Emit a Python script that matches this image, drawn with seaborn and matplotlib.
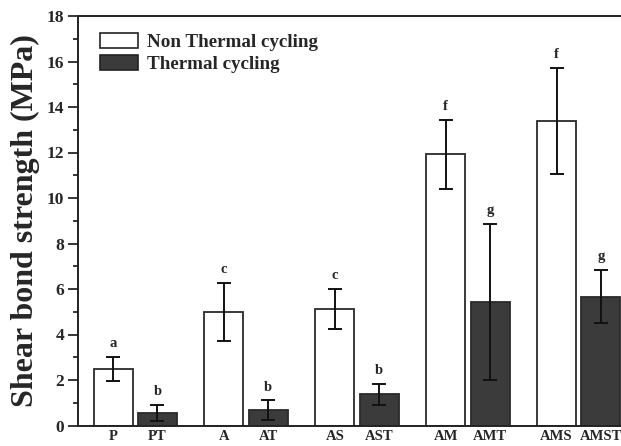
import matplotlib
matplotlib.use("Agg")
import matplotlib.pyplot as plt
from matplotlib.ticker import MultipleLocator
import seaborn as sns
import pandas as pd
import numpy as np

# ---- data ----
groups = ["P", "A", "AS", "AM", "AMS"]
conditions = ["Non Thermal cycling", "Thermal cycling"]
bar_labels = ["P", "PT", "A", "AT", "AS", "AST", "AM", "AMT", "AMS", "AMST"]
non_thermal = [2.47, 4.99, 5.13, 11.92, 13.37]
non_thermal_err = [0.53, 1.27, 0.87, 1.53, 2.33]
thermal = [0.55, 0.67, 1.38, 5.44, 5.67]
thermal_err = [0.35, 0.43, 0.46, 3.43, 1.16]
non_thermal_letters = ["a", "c", "c", "f", "f"]
thermal_letters = ["b", "b", "b", "g", "g"]

df = pd.DataFrame({
    "group": groups * 2,
    "condition": [conditions[0]] * 5 + [conditions[1]] * 5,
    "value": non_thermal + thermal,
    "err": non_thermal_err + thermal_err,
    "letter": non_thermal_letters + thermal_letters,
})

sns.set_style("ticks")
plt.rcParams["font.family"] = ["Liberation Serif", "DejaVu Serif"]
plt.rcParams["font.weight"] = "bold"

fig = plt.figure(figsize=(6.21, 4.46), dpi=100)
ax = fig.add_axes([78 / 621, 20.5 / 446, 558 / 621, 409.5 / 446])

palette = {conditions[0]: "#ffffff", conditions[1]: "#3b3b3b"}
sns.barplot(data=df, x="group", y="value", hue="condition", order=groups,
            hue_order=conditions, palette=palette, errorbar=None,
            width=0.8, gap=0.12, edgecolor="#2a2a2a", linewidth=1.3, ax=ax,
            saturation=1)

# error bars and letters at bar centres
patches = [p for p in ax.patches if p.get_height() > 0]
patches = sorted(patches, key=lambda p: p.get_x())
vals_sorted = []
for i in range(5):
    vals_sorted.append((non_thermal[i], non_thermal_err[i], non_thermal_letters[i]))
    vals_sorted.append((thermal[i], thermal_err[i], thermal_letters[i]))
centers = []
for p, (v, e, lt) in zip(patches, vals_sorted):
    cx = p.get_x() + p.get_width() / 2
    centers.append(cx)
    ax.errorbar(cx, v, yerr=e, fmt="none", ecolor="#111111", elinewidth=1.4,
                capsize=5, capthick=1.4)
    ax.annotate(lt, (cx, v + e), xytext=(0, 5), textcoords="offset points",
                ha="center", va="bottom", fontsize=10.5, fontweight="bold")

ax.set_xticks(centers)
ax.set_xticklabels(bar_labels, fontsize=10.5, fontweight="bold")
ax.set_xlim(-0.516, 4.516)
ax.set_ylim(0, 18)
ax.yaxis.set_major_locator(MultipleLocator(2))
ax.yaxis.set_minor_locator(MultipleLocator(1))
ax.tick_params(axis="y", which="major", length=7, width=1.3, direction="out",
               labelsize=12.5, pad=3)
ax.tick_params(axis="y", which="minor", length=3.5, width=1.3, direction="out")
ax.tick_params(axis="x", length=0, pad=3)
for lbl in ax.get_yticklabels():
    lbl.set_fontweight("bold")
ax.set_xlabel("")
ax.set_ylabel("Shear bond strength (MPa)", fontsize=23, fontweight="bold",
              labelpad=5)

for s in ax.spines.values():
    s.set_linewidth(1.4)
    s.set_color("#222222")

leg = ax.legend(loc="upper left", bbox_to_anchor=(0.026, 0.978), frameon=False,
                prop={"weight": "bold", "size": 13.7}, handlelength=2.0,
                handleheight=0.85, handletextpad=0.45, labelspacing=0.2,
                borderaxespad=0)
for h in leg.legend_handles:
    h.set_edgecolor("#222222")
    h.set_linewidth(1.2)

fig.savefig("out.png", dpi=100)
